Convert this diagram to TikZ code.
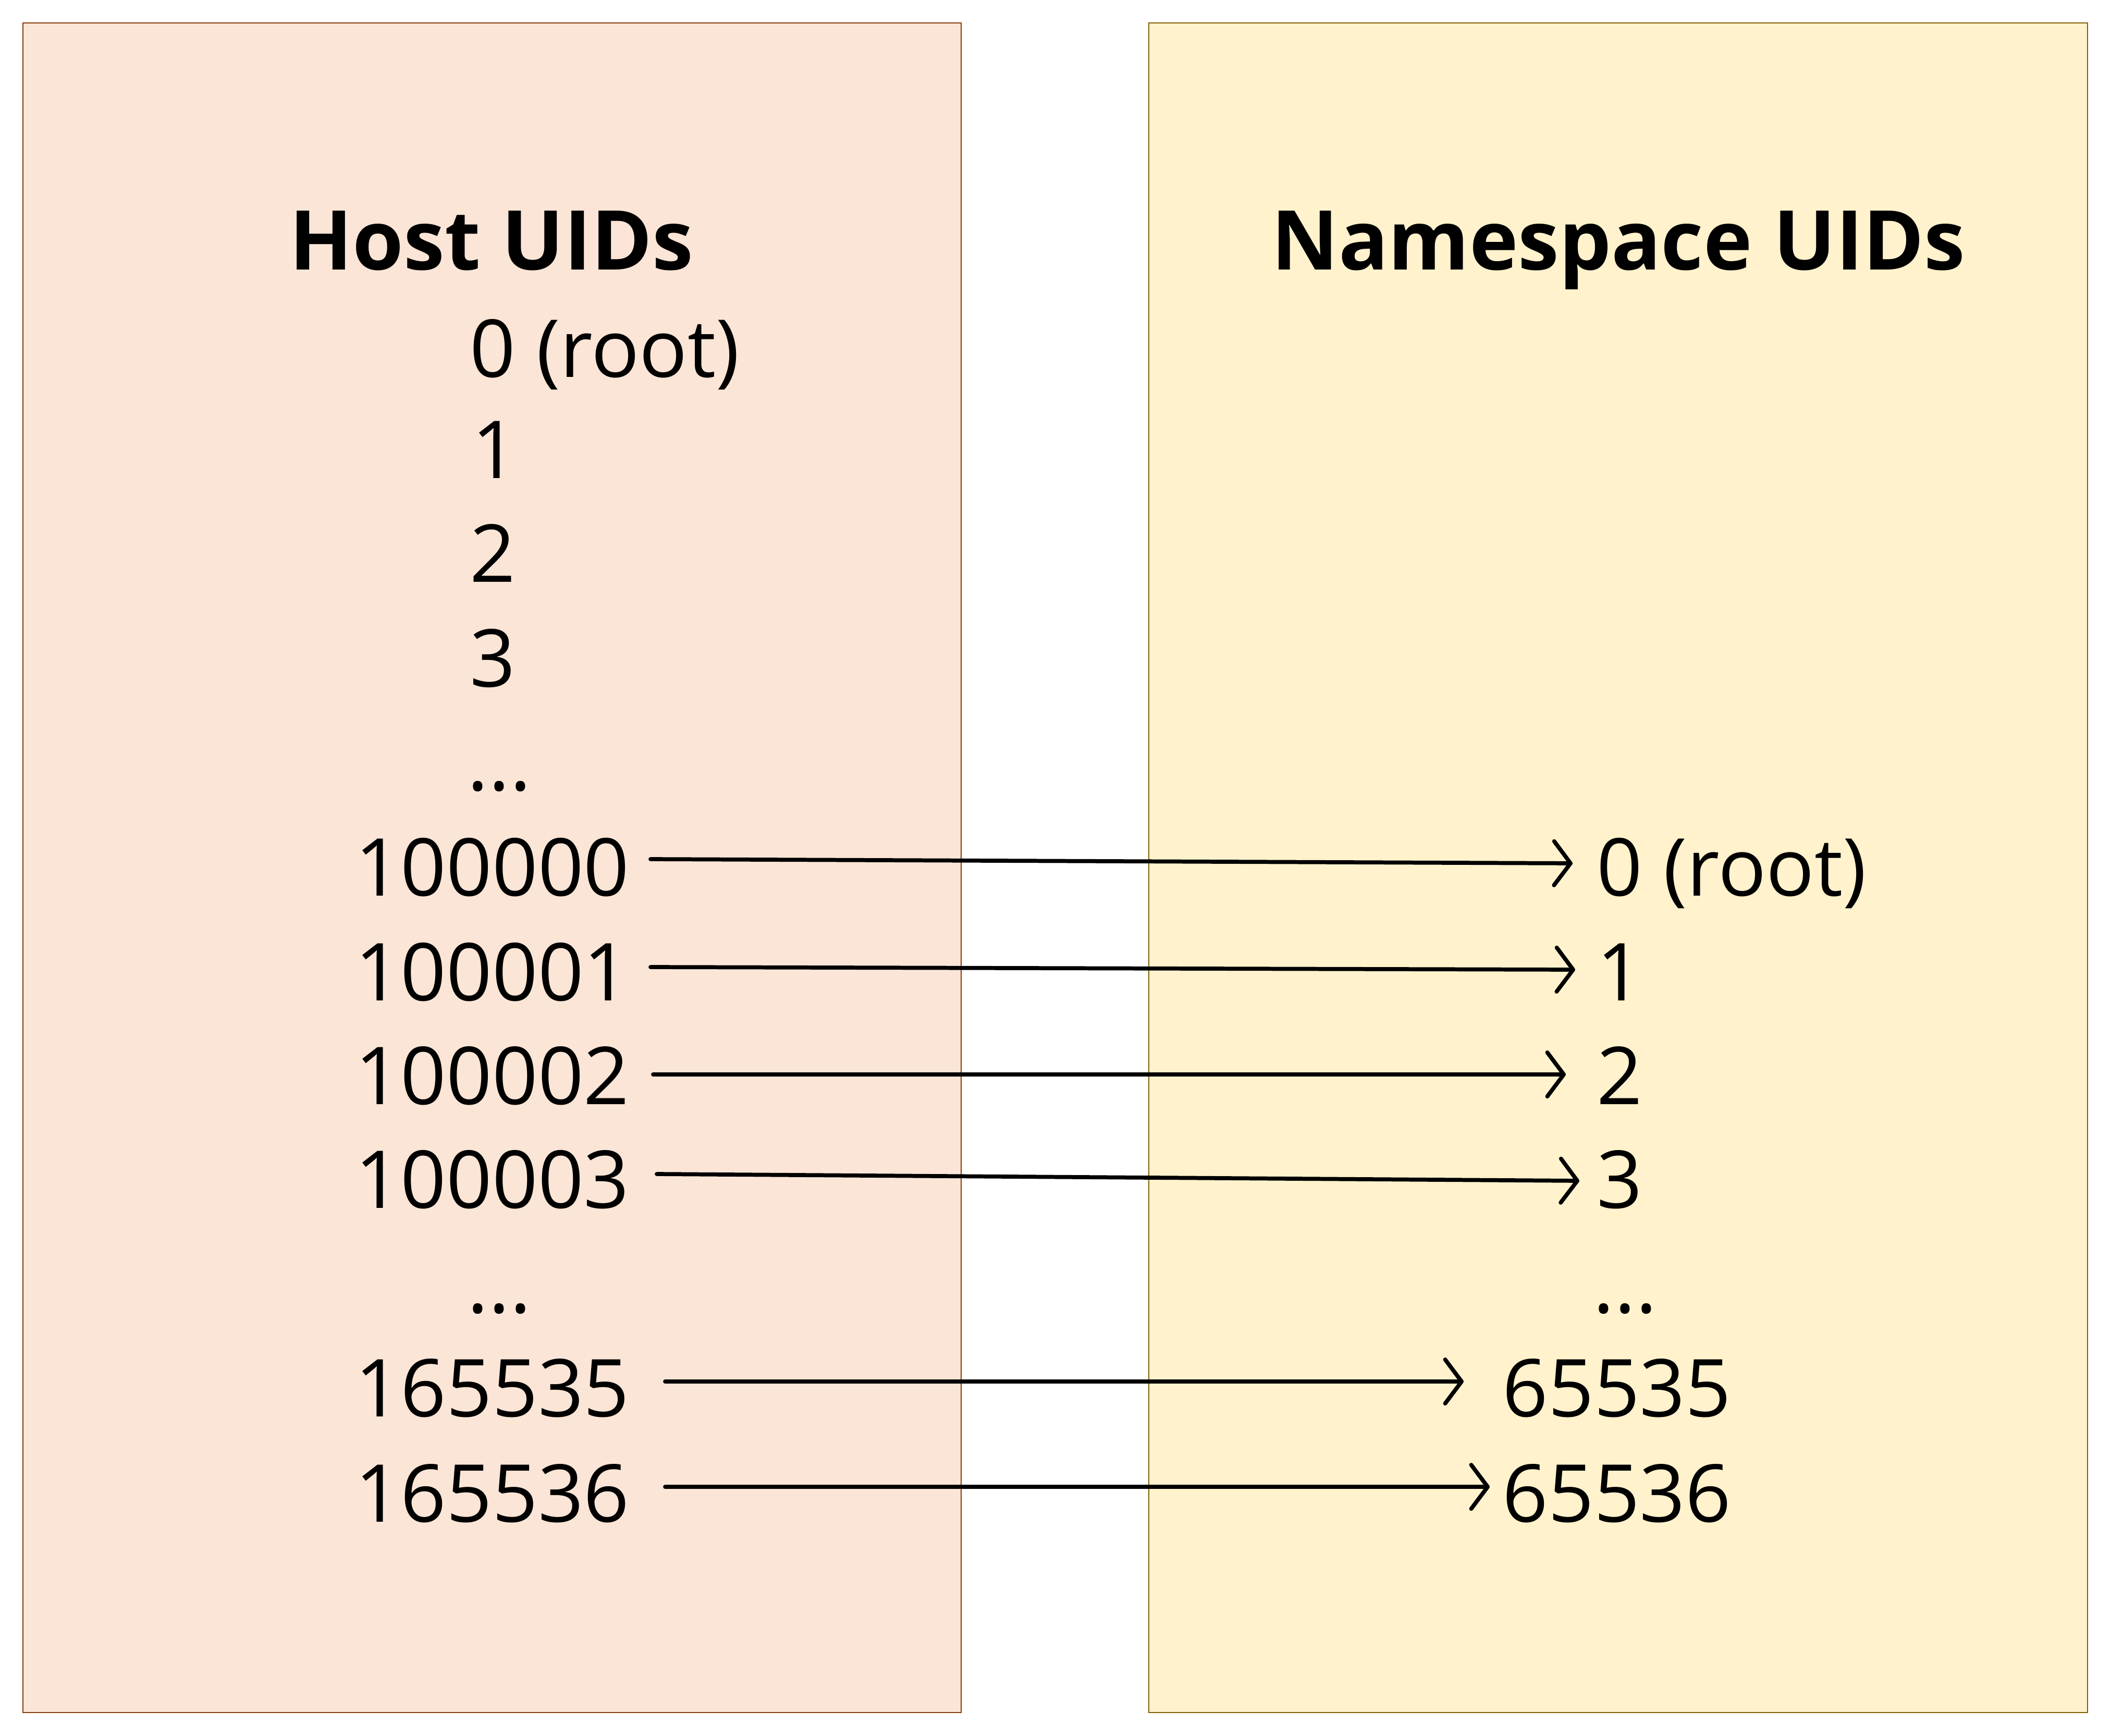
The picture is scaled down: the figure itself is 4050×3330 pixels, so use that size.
\documentclass[tikz,border=0pt]{standalone}
\usepackage{fontspec}
\setmainfont{Open Sans}
\usetikzlibrary{arrows.meta,calc}
\definecolor{hostfill}{HTML}{FBE5D6}
\definecolor{hostdraw}{HTML}{843C0C}
\definecolor{nsfill}{HTML}{FFF2CC}
\definecolor{nsdraw}{HTML}{7F6000}
\tikzset{
  panel/.style={line width=0.6pt},
  uid/.style={inner sep=0pt, font=\fontsize{43.6}{52}\selectfont},
  uidW/.style={uid, anchor=base west},
  uidE/.style={uid, anchor=base east},
  title/.style={inner sep=0pt, anchor=base, font=\fontsize{45}{54}\selectfont\bfseries},
  maparrow/.style={line width=2.2pt, line cap=round, -{Straight Barb[length=9pt,width=24pt,round]}},
}
\begin{document}
\begin{tikzpicture}[x=0.01cm,y=-0.01cm]
\useasboundingbox (0,0) rectangle (4050,3330);
\draw[panel, fill=hostfill, draw=hostdraw] (44,44) rectangle (1844,3285);
\draw[panel, fill=nsfill, draw=nsdraw] (2204,44) rectangle (4005,3285);

\node[title] (th) at (943,517) {Host UIDs};
\node[title] (tn) at (3105,517) {Namespace UIDs};

% host column
\node[uidW] (h0) at (901,723) {0 (root)};
\node[uidW] (h1) at (905,917) {1};
\node[uidW] (h2) at (901,1116) {2};
\node[uidW] (h3) at (901,1317) {3};
\node[uidW] (hd1) at (896,1516) {...};
\node[uidE] (a0) at (1208,1718) {100000};
\node[uidE] (a1) at (1208,1919) {100001};
\node[uidE] (a2) at (1208,2118) {100002};
\node[uidE] (a3) at (1208,2317) {100003};
\node[uidW] (hd2) at (896,2518) {...};
\node[uidE] (a4) at (1208,2717) {165535};
\node[uidE] (a5) at (1208,2919) {165536};

% namespace column
\node[uidW] (b0) at (3063,1718) {0 (root)};
\node[uidW] (b1) at (3063,1919) {1};
\node[uidW] (b2) at (3063,2118) {2};
\node[uidW] (b3) at (3063,2317) {3};
\node[uidW] (nd) at (3056,2518) {...};
\node[uidW] (b4) at (2882,2717) {65535};
\node[uidW] (b5) at (2882,2919) {65536};

% arrows
\draw[maparrow] ($(a0.base east)+(40,-70)$) -- ($(b0.base west)+(-46,-62)$);
\draw[maparrow] ($(a1.base east)+(40,-64)$) -- ($(b1.base west)+(-41,-59)$);
\draw[maparrow] ($(a2.base east)+(45,-57)$) -- ($(b2.base west)+(-59,-57)$);
\draw[maparrow] ($(a3.base east)+(52,-65)$) -- ($(b3.base west)+(-33,-52)$);
\draw[maparrow] ($(a4.base east)+(68,-67)$) -- ($(b4.base west)+(-74,-67)$);
\draw[maparrow] ($(a5.base east)+(68,-67)$) -- ($(b5.base west)+(-24,-67)$);
\end{tikzpicture}
\end{document}
